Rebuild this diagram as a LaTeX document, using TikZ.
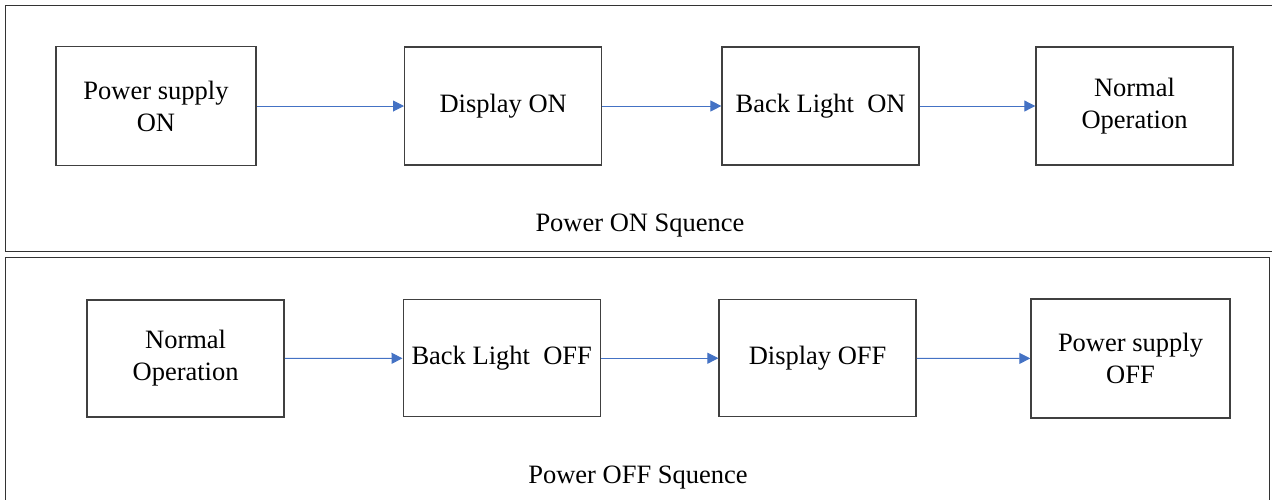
\documentclass[tikz,border=0pt]{standalone}
\usepackage{fontspec}
\setmainfont{Liberation Serif}
\usetikzlibrary{arrows.meta}
\definecolor{arrblue}{HTML}{4472C4}
\definecolor{boxgray}{HTML}{404040}
\tikzset{
  stepbox/.style={draw=boxgray, line width=1.4pt, inner sep=0pt, align=center,
    font=\fontsize{26.5}{32}\selectfont},
  frame/.style={draw=black!80, line width=1pt},
  arr/.style={draw=arrblue, line width=1pt, -{Triangle[length=11pt,width=11pt]}},
  title/.style={font=\fontsize{26.5}{32}\selectfont, anchor=base, inner sep=0pt}
}
\begin{document}
\begin{tikzpicture}[x=1pt,y=-1pt]
\useasboundingbox (0,0) rectangle (1272,499);
% frames
\draw[frame] (5,5) rectangle (1275,251);
\draw[frame] (5,257) rectangle (1269,503);
% top row
\node[stepbox, minimum width=200pt, minimum height=119pt] (t1) at (156,106) {Power supply\\ON};
\node[stepbox, minimum width=197pt, minimum height=118pt] (t2) at (503.2,106) {Display ON};
\node[stepbox, minimum width=197pt, minimum height=118pt] (t3) at (820.6,106) {Back Light~~ON};
\node[stepbox, minimum width=197pt, minimum height=118pt] (t4) at (1134.5,106) {Normal\\Operation};
\draw[arr] (t1) -- (t2);
\draw[arr] (t2) -- (t3);
\draw[arr] (t3) -- (t4);
\node[title] (ton) at (640,231.7) {Power ON Squence};
% bottom row
\node[stepbox, minimum width=197pt, minimum height=117pt] (b1) at (185.6,358.5) {Normal\\Operation};
\node[stepbox, minimum width=197pt, minimum height=117pt] (b2) at (501.7,358.2) {Back Light~~OFF};
\node[stepbox, minimum width=197pt, minimum height=117pt] (b3) at (817.6,358.2) {Display OFF};
\node[stepbox, minimum width=199pt, minimum height=119pt] (b4) at (1130.5,358.5) {Power supply\\OFF};
\draw[arr] (b1) -- (b2);
\draw[arr] (b2) -- (b3);
\draw[arr] (b3) -- (b4);
\node[title] (toff) at (638,483.3) {Power OFF Squence};
\end{tikzpicture}
\end{document}
